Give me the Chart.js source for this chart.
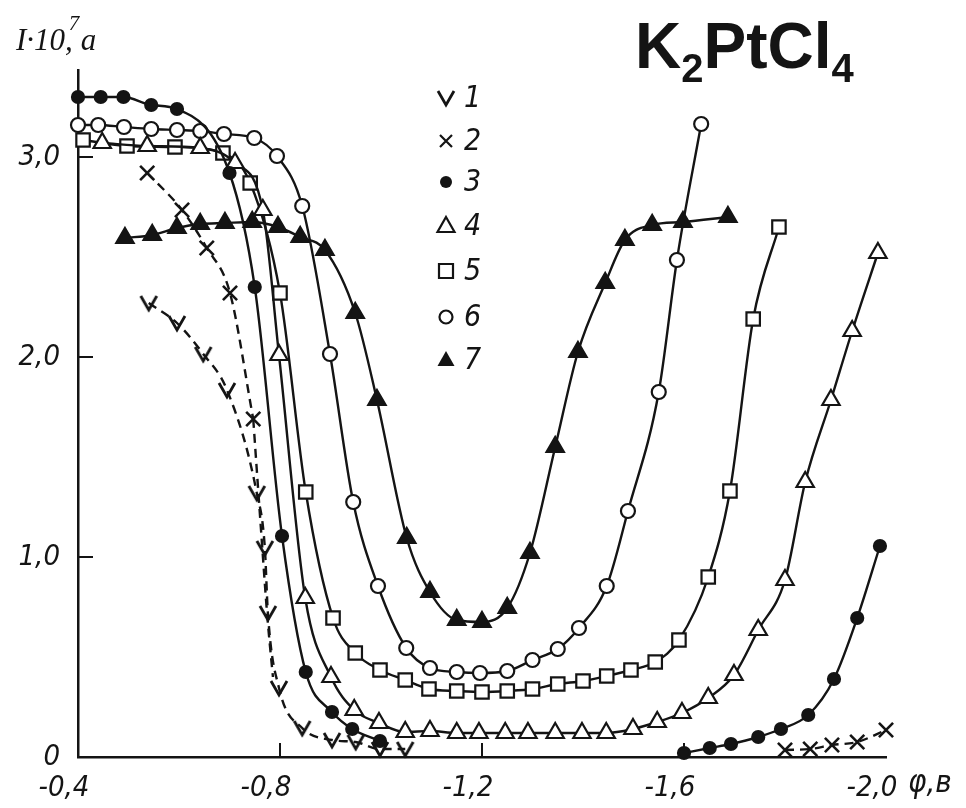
<!DOCTYPE html>
<html>
<head>
<meta charset="utf-8">
<script src="https://cdn.jsdelivr.net/npm/chart.js@4.4.1/dist/chart.umd.min.js"></script>
<style>
  html, body { margin: 0; background: #fff; }
  canvas { display: block; }
</style>
</head>
<body>
<canvas id="chart" width="966" height="808"></canvas>
<script>
// potential, V  /  current I*10^7, A
const phi1 = [-0.54, -0.596, -0.648, -0.695, -0.754, -0.77, -0.776, -0.798, -0.844, -0.903, -0.95, -0.998, -1.048];
const cur1 = [2.27, 2.17, 2.015, 1.835, 1.32, 1.045, 0.72, 0.345, 0.145, 0.085, 0.075, 0.04, 0.04];

const phi2 = [-0.537, -0.606, -0.655, -0.701, -0.747, -1.3, -1.80, -1.85, -1.893, -1.943, -2.0];
const cur2 = [2.92, 2.735, 2.545, 2.32, 1.69, null, 0.035, 0.04, 0.06, 0.075, 0.135];
// dashed continuation of curve 2 hidden under curve 1
const phi2tail = [-0.747, -0.762, -0.775, -0.786];
const cur2tail = [1.69, 1.15, 0.7, 0.4];

const phi3 = [-0.40, -0.445, -0.49, -0.545, -0.596, -0.70, -0.75, -0.804, -0.851, -0.903, -0.943, -0.998,
              -1.3, -1.60, -1.651, -1.693, -1.747, -1.792, -1.846, -1.897, -1.943, -1.988];
const cur3 = [3.30, 3.30, 3.30, 3.26, 3.24, 2.92, 2.35, 1.105, 0.425, 0.225, 0.14, 0.08,
              null, 0.02, 0.045, 0.065, 0.10, 0.14, 0.21, 0.39, 0.695, 1.055];

const phi4 = [-0.448, -0.537, -0.642, -0.711, -0.766, -0.798, -0.85, -0.901, -0.947, -0.996, -1.048, -1.097,
              -1.15, -1.194, -1.246, -1.291, -1.345, -1.398, -1.446, -1.499, -1.547, -1.596, -1.648, -1.699,
              -1.747, -1.80, -1.84, -1.891, -1.933, -1.984];
const cur4 = [3.07, 3.055, 3.045, 2.97, 2.735, 2.01, 0.795, 0.40, 0.235, 0.17, 0.125, 0.13,
              0.12, 0.12, 0.12, 0.12, 0.12, 0.12, 0.12, 0.14, 0.175, 0.22, 0.295, 0.41,
              0.635, 0.885, 1.375, 1.785, 2.13, 2.52];

const phi5 = [-0.41, -0.497, -0.592, -0.687, -0.741, -0.80, -0.851, -0.905, -0.949, -0.998, -1.048, -1.095,
              -1.15, -1.20, -1.25, -1.30, -1.35, -1.40, -1.447, -1.495, -1.543, -1.59, -1.648, -1.691,
              -1.737, -1.788];
const cur5 = [3.085, 3.055, 3.05, 3.02, 2.87, 2.32, 1.325, 0.695, 0.52, 0.435, 0.385, 0.34,
              0.33, 0.325, 0.33, 0.34, 0.365, 0.38, 0.405, 0.435, 0.475, 0.585, 0.90, 1.33,
              2.19, 2.65];

const phi6 = [-0.40, -0.44, -0.491, -0.545, -0.596, -0.642, -0.689, -0.749, -0.794, -0.844, -0.899, -0.945,
              -0.994, -1.05, -1.097, -1.15, -1.196, -1.25, -1.30, -1.35, -1.392, -1.447, -1.489, -1.55,
              -1.586, -1.634];
const cur6 = [3.16, 3.16, 3.15, 3.14, 3.135, 3.13, 3.115, 3.095, 3.005, 2.755, 2.015, 1.275,
              0.855, 0.545, 0.445, 0.425, 0.42, 0.43, 0.485, 0.54, 0.645, 0.855, 1.23, 1.825,
              2.485, 3.165];

const phi7 = [-0.493, -0.547, -0.596, -0.642, -0.691, -0.745, -0.796, -0.84, -0.889, -0.949, -0.992, -1.051,
              -1.097, -1.15, -1.20, -1.25, -1.295, -1.345, -1.39, -1.444, -1.483, -1.537, -1.598, -1.687];
const cur7 = [2.595, 2.61, 2.645, 2.665, 2.67, 2.675, 2.65, 2.60, 2.535, 2.22, 1.785, 1.095,
              0.825, 0.685, 0.675, 0.745, 1.02, 1.55, 2.025, 2.37, 2.585, 2.66, 2.675, 2.70];

const xTicks = [-0.4, -0.8, -1.2, -1.6, -2.0];
const yTicks = [0, 1, 2, 3];
const legendLabels = ["1", "2", "3", "4", "5", "6", "7"];

const ink = "#141414";
const tickFont = { family: "'DejaVu Sans Condensed', 'DejaVu Sans', sans-serif", size: 29, style: "italic" };

// "V" marker for curve 1
const vMark = document.createElement("canvas");
vMark.width = 20; vMark.height = 20;
(function () {
    const c = vMark.getContext("2d");
    c.strokeStyle = ink;
    c.lineWidth = 2.8;
    c.beginPath();
    c.moveTo(2, 3);
    c.lineTo(10, 17);
    c.lineTo(18, 3);
    c.stroke();
})();

function pts(xs, ys) {
    return xs.map((x, i) => ({ x: x, y: ys[i] }));
}

function series(xs, ys, style, extra) {
    return Object.assign({
        data: pts(xs, ys),
        borderColor: ink,
        borderWidth: 2.4,
        pointStyle: style,
        pointBorderColor: ink,
        pointBackgroundColor: "#fff",
        pointBorderWidth: 2.2,
        pointRadius: 7,
        cubicInterpolationMode: "monotone",
        spanGaps: false,
        clip: false
    }, extra || {});
}

const datasets = [
    series(phi2tail, cur2tail, false, { pointRadius: 0, borderDash: [9, 6] }),
    series(phi1, cur1, vMark, { borderDash: [9, 6] }),
    series(phi2, cur2, "crossRot", { borderDash: [9, 6], pointRadius: 10, pointBorderWidth: 2.6 }),
    series(phi3, cur3, "circle", { pointBackgroundColor: ink, pointRadius: 6 }),
    series(phi4, cur4, "triangle", { pointRadius: 10 }),
    series(phi5, cur5, "rect", { pointRadius: 9.5 }),
    series(phi6, cur6, "circle", { pointRadius: 7 }),
    series(phi7, cur7, "triangle", { pointBackgroundColor: ink, pointRadius: 10 })
];

function drawMarker(ctx, n, x, y) {
    ctx.save();
    ctx.strokeStyle = ink;
    ctx.fillStyle = ink;
    ctx.lineWidth = 2.2;
    ctx.beginPath();
    if (n === 0) {
        ctx.drawImage(vMark, x - 10, y - 10);
    } else if (n === 1) {
        ctx.moveTo(x - 6, y - 6); ctx.lineTo(x + 6, y + 6);
        ctx.moveTo(x + 6, y - 6); ctx.lineTo(x - 6, y + 6);
        ctx.stroke();
    } else if (n === 2) {
        ctx.arc(x, y, 6, 0, Math.PI * 2);
        ctx.fill();
    } else if (n === 3 || n === 6) {
        ctx.moveTo(x, y - 9); ctx.lineTo(x + 8.5, y + 6); ctx.lineTo(x - 8.5, y + 6); ctx.closePath();
        if (n === 6) ctx.fill(); else ctx.stroke();
    } else if (n === 4) {
        ctx.rect(x - 7, y - 7, 14, 14);
        ctx.stroke();
    } else {
        ctx.arc(x, y, 6.5, 0, Math.PI * 2);
        ctx.stroke();
    }
    ctx.restore();
}

const decorations = {
    id: "decorations",
    afterDraw(chart) {
        const ctx = chart.ctx;
        const xs = chart.scales.x, ys = chart.scales.y;
        ctx.save();
        ctx.strokeStyle = ink;
        ctx.fillStyle = ink;

        // inner tick marks
        ctx.lineWidth = 2;
        ctx.beginPath();
        yTicks.slice(1).forEach(v => {
            const py = ys.getPixelForValue(v);
            ctx.moveTo(xs.left, py); ctx.lineTo(xs.left + 15, py);
        });
        xTicks.slice(1, 4).forEach(v => {
            const px = xs.getPixelForValue(v);
            ctx.moveTo(px, ys.bottom); ctx.lineTo(px, ys.bottom - 14);
        });
        ctx.stroke();

        // legend
        const legY = [98, 141, 182, 226, 271, 317, 360];
        ctx.font = "italic 30px 'DejaVu Sans Condensed', 'DejaVu Sans', sans-serif";
        ctx.textBaseline = "middle";
        legendLabels.forEach((lab, i) => {
            drawMarker(ctx, i, 446, legY[i]);
            ctx.fillText(lab, 464, legY[i] + 1);
        });

        // title K2PtCl4
        ctx.textBaseline = "alphabetic";
        const big = "bold 64px 'Liberation Sans', Arial, sans-serif";
        const small = "bold 40px 'Liberation Sans', Arial, sans-serif";
        let tx = 635;
        [["K", big, 0], ["2", small, 14], ["PtCl", big, 0], ["4", small, 14]].forEach(p => {
            ctx.font = p[1];
            ctx.fillText(p[0], tx, 68 + p[2]);
            tx += ctx.measureText(p[0]).width;
        });

        // axis titles
        ctx.font = "italic 31px 'Liberation Serif', 'DejaVu Serif', serif";
        ctx.fillText("I·10,", 16, 50);
        const w = ctx.measureText("I·10,").width;
        ctx.fillText("a", 16 + w + 8, 50);
        ctx.font = "italic 21px 'Liberation Serif', 'DejaVu Serif', serif";
        ctx.fillText("7", 16 + w - 4, 30);

        ctx.font = "italic 31px 'DejaVu Sans Condensed', 'DejaVu Sans', sans-serif";
        ctx.fillText("φ,в", 908, 792);
        ctx.restore();
    }
};

new Chart(document.getElementById("chart"), {
    type: "line",
    data: { datasets: datasets },
    plugins: [decorations],
    options: {
        responsive: false,
        animation: false,
        layout: { padding: { left: 0, top: 70, right: 80, bottom: 0 } },
        plugins: { legend: { display: false }, tooltip: { enabled: false } },
        scales: {
            x: {
                type: "linear",
                reverse: true,
                min: -2.0,
                max: -0.4,
                afterFit: s => { s.height = 51; },
                afterBuildTicks: s => { s.ticks = xTicks.map(v => ({ value: v })); },
                grid: { display: false },
                border: { display: true, color: ink, width: 2.5 },
                ticks: {
                    color: ink,
                    font: tickFont,
                    padding: 6,
                    labelOffset: -14,
                    maxRotation: 0,
                    callback: v => v.toFixed(1).replace(".", ",")
                }
            },
            y: {
                type: "linear",
                min: 0,
                max: 3.435,
                afterFit: s => { s.width = 78; },
                afterBuildTicks: s => { s.ticks = yTicks.map(v => ({ value: v })); },
                grid: { display: false },
                border: { display: true, color: ink, width: 2.5 },
                ticks: {
                    color: ink,
                    font: tickFont,
                    padding: 10,
                    callback: v => v === 0 ? "0" : v.toFixed(1).replace(".", ",")
                }
            }
        }
    }
});
</script>
</body>
</html>
